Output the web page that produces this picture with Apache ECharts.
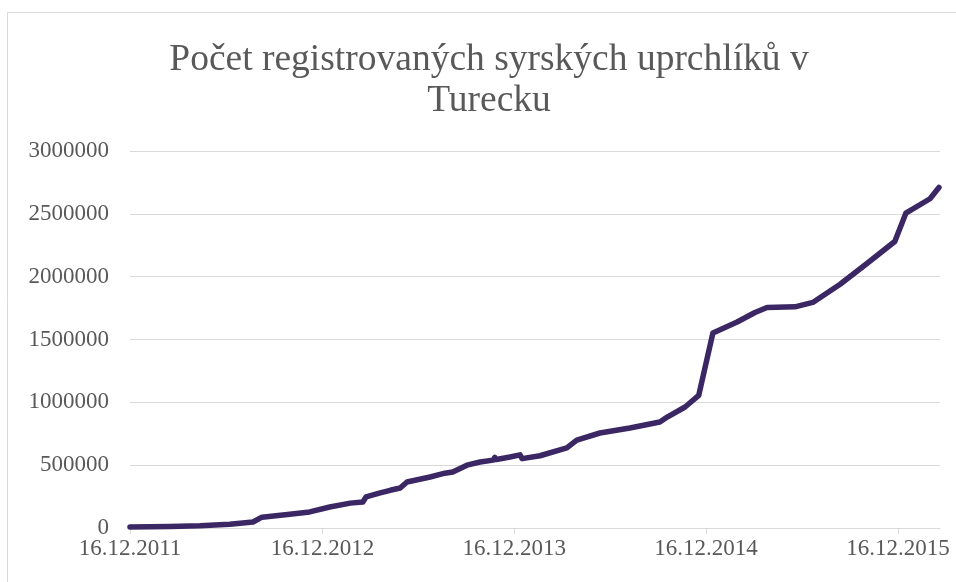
<!DOCTYPE html>
<html>
<head>
<meta charset="utf-8">
<title>Počet registrovaných syrských uprchlíků v Turecku</title>
<script src="https://cdn.jsdelivr.net/npm/echarts@6/dist/echarts.min.js"></script>
<style>
  html, body { margin: 0; padding: 0; background: #fff; }
  #chart { width: 956px; height: 582px; }
</style>
</head>
<body>
<div id="chart"></div>
<script>
// data
var dates = [
  '2011-12-16', '2012-03-01', '2012-04-27', '2012-06-23', '2012-08-06', '2012-08-23',
  '2012-10-15', '2012-11-22', '2012-12-30', '2013-02-07', '2013-03-03', '2013-03-09',
  '2013-04-05', '2013-04-24', '2013-05-13', '2013-05-26', '2013-07-09', '2013-08-06',
  '2013-08-21', '2013-09-17', '2013-10-12', '2013-11-06', '2013-11-09', '2013-11-12',
  '2013-12-08', '2013-12-27', '2013-12-31', '2014-02-03', '2014-03-26', '2014-04-14',
  '2014-05-28', '2014-07-24', '2014-09-19', '2014-10-03', '2014-11-06', '2014-12-02',
  '2014-12-29', '2015-02-13', '2015-03-19', '2015-04-11', '2015-06-03', '2015-07-07',
  '2015-08-28', '2015-10-18', '2015-12-10', '2015-12-31', '2016-02-15', '2016-03-03'
];
var refugees = [
  8000, 12000, 18000, 30000, 48000, 86000,
  110000, 128000, 167000, 198000, 207000, 247000,
  279000, 300000, 318000, 366000, 406000, 436000,
  446000, 500000, 525000, 540000, 562000, 545000,
  565000, 582000, 552000, 575000, 637000, 700000,
  756000, 796000, 844000, 883000, 963000, 1055000,
  1552000, 1639000, 1715000, 1755000, 1760000, 1795000,
  1940000, 2105000, 2280000, 2505000, 2620000, 2710000
];
var tickDates = ['2011-12-16', '2012-12-16', '2013-12-16', '2014-12-16', '2015-12-16'];
var xStart = '2011-12-16';
var xEnd = '2016-03-05';

function toMs(s) {
  var p = s.split('-');
  return Date.UTC(+p[0], +p[1] - 1, +p[2]);
}
function fmtDate(ms) {
  var d = new Date(ms);
  return d.getUTCDate() + '.' + (d.getUTCMonth() + 1) + '.' + d.getUTCFullYear();
}

var points = dates.map(function (d, i) { return [toMs(d), refugees[i]]; });
var tickMs = tickDates.map(toMs);

var myChart = echarts.init(document.getElementById('chart'));
var font = "'Liberation Serif', 'Times New Roman', serif";

var option = {
  animation: false,
  backgroundColor: '#fff',
  title: {
    text: 'Počet registrovaných syrských uprchlíků v\nTurecku',
    left: 489,
    textAlign: 'center',
    top: 40,
    padding: 0,
    textStyle: {
      fontFamily: font,
      fontSize: 37.5,
      fontWeight: 'normal',
      color: '#595959',
      lineHeight: 41
    }
  },
  graphic: [{
    type: 'rect',
    shape: { x: 7.5, y: 12.5, width: 1000, height: 1000 },
    style: { fill: 'none', stroke: '#d9d9d9', lineWidth: 1 },
    silent: true
  }],
  grid: { left: 130, right: 16, top: 151, bottom: 54 },
  xAxis: {
    type: 'value',
    min: toMs(xStart),
    max: toMs(xEnd),
    axisLine: { lineStyle: { color: '#d9d9d9', width: 1 } },
    axisTick: { show: true, length: 6, customValues: tickMs, lineStyle: { color: '#d9d9d9' } },
    splitLine: { show: false },
    axisLabel: {
      customValues: tickMs,
      formatter: function (v) { return fmtDate(v); },
      fontFamily: font,
      fontSize: 23,
      color: '#595959',
      margin: 9
    }
  },
  yAxis: {
    type: 'value',
    min: 0,
    max: 3000000,
    interval: 500000,
    axisLine: { show: false },
    axisTick: { show: false },
    splitLine: { lineStyle: { color: '#d9d9d9', width: 1 } },
    axisLabel: {
      formatter: function (v) { return String(v); },
      fontFamily: font,
      fontSize: 23,
      color: '#595959',
      margin: 21
    }
  },
  series: [{
    type: 'line',
    data: points,
    showSymbol: false,
    symbol: 'none',
    smooth: false,
    lineStyle: { color: '#3b2764', width: 5.5, cap: 'round', join: 'round' }
  }]
};
myChart.setOption(option);
</script>
</body>
</html>
